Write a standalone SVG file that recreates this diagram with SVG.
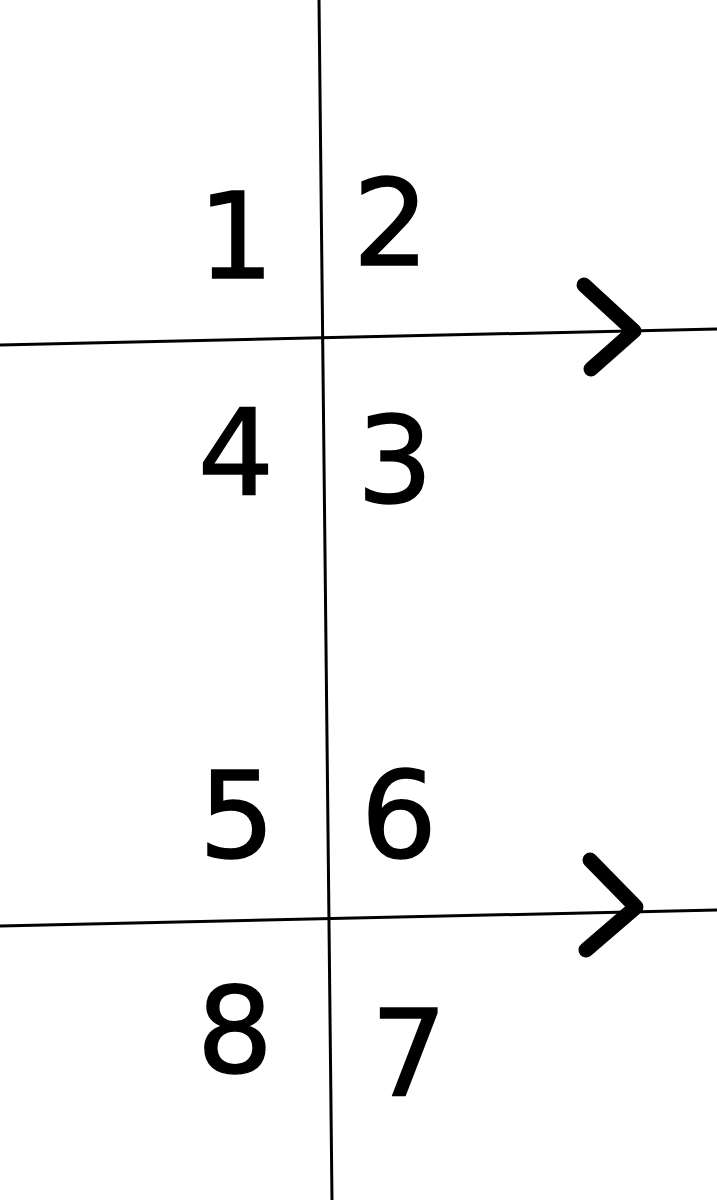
<svg xmlns="http://www.w3.org/2000/svg" width="717" height="1200" viewBox="0 0 717 1200">
<style>
.ln{stroke:#000;stroke-width:3;fill:none}
.chev{stroke:#000;stroke-width:15;fill:none;stroke-linecap:round;stroke-linejoin:round}
.num{font-family:"DejaVu Sans",sans-serif;font-size:120px;fill:#000;stroke:#000;stroke-width:1.5;text-anchor:middle}
</style>
<rect width="717" height="1200" fill="#fff"/>
<g id="lines">
<line class="ln" x1="319" y1="0" x2="332" y2="1200"/>
<line class="ln" x1="0" y1="345" x2="717" y2="329"/>
<line class="ln" x1="0" y1="926" x2="717" y2="910"/>
</g>
<g id="arrows">
<polyline class="chev" points="584,285 634,331 591,369"/>
<polyline class="chev" points="590,860 636,907 586,950"/>
</g>
<g id="labels">
<text class="num" x="236" y="278">1</text>
<text class="num" x="391" y="265">2</text>
<text class="num" x="236" y="495">4</text>
<text class="num" x="395" y="502">3</text>
<text class="num" x="237" y="857">5</text>
<text class="num" x="399" y="857">6</text>
<text class="num" x="235" y="1072">8</text>
<text class="num" x="409" y="1095">7</text>
</g>
</svg>
